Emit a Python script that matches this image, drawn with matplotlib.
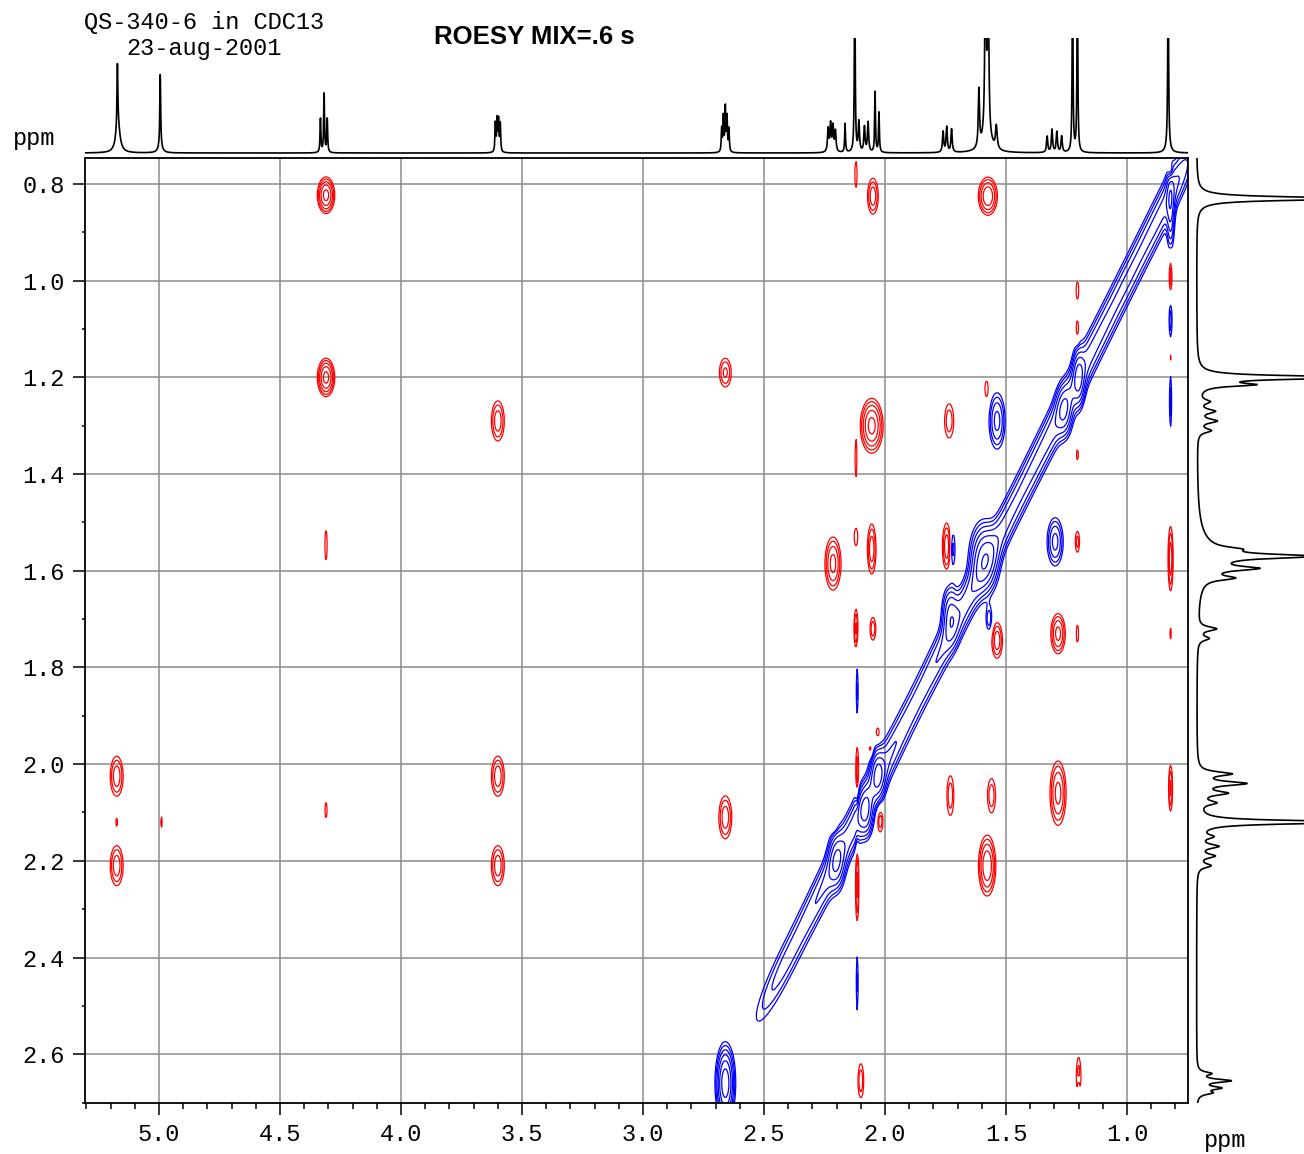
import numpy as np
import matplotlib
matplotlib.use("Agg")
import matplotlib.pyplot as plt
from matplotlib.ticker import MultipleLocator, FormatStrFormatter

plt.rcParams['font.family'] = ['Liberation Mono', 'DejaVu Sans Mono']

# ---- 2D ROESY peaks: (F2 ppm, F1 ppm, amplitude, sigma F2, sigma F1) ----
# red = positive (ROE cross peaks), contour level 1 = lowest contour
red_peaks = [
    (4.31, 0.823, 6.0, 0.019, 0.020),
    (4.31, 1.200, 6.0, 0.019, 0.021),
    (3.60, 1.290, 3.0, 0.018, 0.028),
    (4.31, 1.547, 1.5, 0.005, 0.035),
    (2.66, 1.190, 2.5, 0.018, 0.022),
    (5.175, 2.025, 3.0, 0.018, 0.028),
    (5.175, 2.210, 3.0, 0.018, 0.028),
    (5.175, 2.120, 1.3, 0.004, 0.012),
    (4.99, 2.120, 1.3, 0.004, 0.015),
    (4.31, 2.095, 1.4, 0.005, 0.020),
    (3.60, 2.025, 3.0, 0.018, 0.028),
    (3.60, 2.210, 3.0, 0.018, 0.028),
    (2.66, 2.110, 3.0, 0.018, 0.030),
    (2.12, 0.780, 1.5, 0.005, 0.030),
    (2.05, 0.825, 3.0, 0.015, 0.025),
    (1.575, 0.825, 5.0, 0.022, 0.022),
    (2.055, 1.300, 6.0, 0.025, 0.030),
    (2.12, 1.370, 1.5, 0.004, 0.040),
    (1.735, 1.290, 2.0, 0.016, 0.030),
    (1.58, 1.225, 1.5, 0.008, 0.020),
    (2.215, 1.585, 4.0, 0.020, 0.033),
    (2.12, 1.530, 1.5, 0.008, 0.020),
    (2.055, 1.555, 3.0, 0.012, 0.035),
    (1.745, 1.550, 3.0, 0.012, 0.033),
    (1.205, 1.540, 1.8, 0.008, 0.020),
    (0.82, 1.575, 3.0, 0.007, 0.045),
    (2.12, 1.720, 2.5, 0.006, 0.030),
    (2.05, 1.720, 2.0, 0.010, 0.020),
    (1.537, 1.744, 3.0, 0.015, 0.025),
    (1.285, 1.730, 4.0, 0.018, 0.025),
    (1.205, 1.730, 1.5, 0.005, 0.020),
    (0.82, 1.730, 1.3, 0.004, 0.015),
    (1.73, 2.065, 2.0, 0.012, 0.035),
    (1.56, 2.065, 2.0, 0.014, 0.030),
    (1.285, 2.060, 4.0, 0.020, 0.040),
    (0.82, 2.050, 2.5, 0.006, 0.035),
    (1.578, 2.210, 5.0, 0.020, 0.035),
    (2.115, 2.020, 2.0, 0.005, 0.050),
    (2.115, 2.250, 2.5, 0.005, 0.060),
    (2.10, 2.655, 2.0, 0.010, 0.030),
    (1.20, 2.660, 2.5, 0.008, 0.040),
    (1.205, 1.020, 1.5, 0.006, 0.020),
    (1.205, 1.100, 1.5, 0.006, 0.020),
    (1.205, 1.360, 1.3, 0.005, 0.015),
    (0.82, 0.775, 2.0, 0.008, 0.012),
    (0.82, 0.990, 2.0, 0.005, 0.030),
    (0.82, 1.160, 1.5, 0.004, 0.015),
    (0.82, 1.330, 1.3, 0.004, 0.012),
    (2.215, 2.127, 1.3, 0.012, 0.010),
    (2.02, 2.117, 2.0, 0.010, 0.020),
    (2.03, 1.935, 1.5, 0.008, 0.012),
    (2.06, 1.970, 1.5, 0.008, 0.012),
]

# blue = negative (diagonal and exchange-type peaks)
blue_peaks = [
    (1.537, 1.290, 4.0, 0.020, 0.035),
    (1.72, 1.555, 2.0, 0.008, 0.030),
    (1.297, 1.540, 4.0, 0.020, 0.030),
    (1.57, 1.700, 2.0, 0.010, 0.020),
    (0.82, 1.080, 2.0, 0.005, 0.030),
    (0.82, 1.250, 1.8, 0.004, 0.050),
    (2.115, 1.850, 1.6, 0.004, 0.050),
    (2.115, 2.450, 1.6, 0.004, 0.060),
    (1.20, 2.670, 1.8, 0.005, 0.020),
    (1.58, 2.100, 1.2, 0.004, 0.006),
    # diagonal blobs
    (0.82, 0.850, 5.0, 0.010, 0.050),
    (1.20, 1.200, 6.0, 0.015, 0.035),
    (1.26, 1.270, 5.0, 0.020, 0.032),
    (1.59, 1.575, 8.0, 0.032, 0.040),
    (1.73, 1.690, 5.0, 0.020, 0.035),
    (2.03, 2.020, 6.0, 0.018, 0.030),
    (2.08, 2.100, 6.0, 0.018, 0.030),
    (2.20, 2.200, 5.0, 0.020, 0.035),
    (2.66, 2.660, 10.0, 0.020, 0.040),
]

# diagonal ridge: position along the diagonal (ppm) and its depth
ridge_ppm = [0.80, 0.90, 1.00, 1.10, 1.20, 1.30, 1.40, 1.50, 1.60,
             1.70, 1.80, 1.90, 2.00, 2.10, 2.20, 2.30, 2.40, 2.48]
ridge_amp = [3.2, 2.8, 2.8, 2.8, 3.2, 3.2, 2.8, 2.8, 3.4,
             3.2, 2.3, 2.1, 2.8, 3.2, 3.2, 2.3, 2.0, 1.3]

# ---- 1D projections: (ppm, height, half width) ----
top_lines = [
    (5.172, 0.55, 0.002), (5.170, 0.25, 0.010),
    (4.995, 0.64, 0.002), (4.995, 0.05, 0.010),
    (4.333, 0.30, 0.002), (4.318, 0.52, 0.002), (4.305, 0.30, 0.002),
    (3.610, 0.25, 0.002), (3.603, 0.28, 0.002), (3.597, 0.27, 0.002), (3.590, 0.25, 0.002),
    (2.675, 0.20, 0.002), (2.668, 0.30, 0.002), (2.660, 0.39, 0.002),
    (2.653, 0.30, 0.002), (2.645, 0.20, 0.002),
    (2.235, 0.20, 0.003), (2.225, 0.24, 0.003), (2.215, 0.22, 0.003), (2.205, 0.18, 0.003),
    (2.165, 0.25, 0.002), (2.125, 1.60, 0.002),
    (2.108, 0.26, 0.003), (2.085, 0.22, 0.003), (2.070, 0.26, 0.003),
    (2.041, 0.53, 0.002), (2.025, 0.35, 0.002),
    (1.760, 0.18, 0.003), (1.745, 0.22, 0.003), (1.725, 0.20, 0.003),
    (1.612, 0.50, 0.003), (1.585, 1.60, 0.003), (1.574, 1.60, 0.003),
    (1.580, 0.15, 0.020), (1.540, 0.20, 0.004),
    (1.330, 0.14, 0.003), (1.310, 0.20, 0.003), (1.290, 0.18, 0.003), (1.270, 0.14, 0.003),
    (1.225, 1.60, 0.002), (1.205, 1.60, 0.002),
    (0.830, 1.60, 0.002), (0.830, 0.06, 0.010),
]

side_lines = [
    (0.830, 1.60, 0.004), (1.200, 1.60, 0.004), (1.215, 0.45, 0.004),
    (1.250, 0.10, 0.005), (1.270, 0.15, 0.005), (1.290, 0.17, 0.005), (1.310, 0.12, 0.005),
    (1.570, 0.92, 0.005), (1.595, 0.43, 0.005), (1.615, 0.26, 0.005),
    (1.555, 0.20, 0.005), (1.570, 0.15, 0.040),
    (1.720, 0.17, 0.005), (1.740, 0.10, 0.005),
    (2.020, 0.30, 0.005), (2.040, 0.43, 0.005), (2.060, 0.25, 0.005), (2.080, 0.15, 0.005),
    (2.120, 1.60, 0.004), (2.150, 0.12, 0.005), (2.170, 0.18, 0.005),
    (2.190, 0.15, 0.005), (2.210, 0.12, 0.005),
    (2.640, 0.12, 0.004), (2.655, 0.30, 0.004), (2.670, 0.20, 0.004), (2.680, 0.12, 0.004),
]

x_lim = (5.306, 0.748)
y_lim = (2.701, 0.746)
levels = [1.0, 1.5, 2.25, 3.4, 5.1, 7.6, 11.4]

# ---- build the 2D surface from the peak lists ----
xs = np.linspace(0.74, 5.32, 1150)
ys = np.linspace(0.74, 2.72, 1000)
Z = np.zeros((ys.size, xs.size))
for sign, peaks in ((1, red_peaks), (-1, blue_peaks)):
    for px, py, a, sx, sy in peaks:
        gx = np.exp(-0.5 * ((xs - px) / sx) ** 2)
        gy = np.exp(-0.5 * ((ys - py) / sy) ** 2)
        Z += sign * a * np.outer(gy, gx)
X, Y = np.meshgrid(xs, ys)
U = (X + Y) / 2
D = X - Y
ridge_d = np.exp(-0.5 * (D / 0.033) ** 2)
for u, a in zip(ridge_ppm, ridge_amp):
    Z -= a * np.exp(-0.5 * ((U - u) / 0.055) ** 2) * ridge_d


def spectrum(grid, lines):
    s = np.zeros_like(grid)
    for c, h, w in lines:
        s += h / (1 + ((grid - c) / w) ** 2)
    return s


W, H = 1304, 1154
fig = plt.figure(figsize=(W / 100, H / 100), dpi=100)

ax = fig.add_axes([85 / W, 1 - 1103 / H, (1188 - 85) / W, (1103 - 158) / H])
ax.contour(xs, ys, Z, levels=levels, colors='#ff0000', linewidths=0.9)
ax.contour(xs, ys, Z, levels=[-l for l in levels[::-1]], colors='#0000ff',
           linewidths=0.9, linestyles='solid')
ax.set_xlim(*x_lim)
ax.set_ylim(*y_lim)
ax.xaxis.set_major_locator(MultipleLocator(0.5))
ax.xaxis.set_minor_locator(MultipleLocator(0.1))
ax.yaxis.set_major_locator(MultipleLocator(0.2))
ax.yaxis.set_minor_locator(MultipleLocator(0.1))
ax.xaxis.set_major_formatter(FormatStrFormatter('%.1f'))
ax.yaxis.set_major_formatter(FormatStrFormatter('%.1f'))
ax.grid(True, which='major', color='#8c8c8c', linewidth=1.1)
ax.set_axisbelow(True)
ax.tick_params(which='major', direction='out', length=8.5, width=1.1,
               labelsize=17, pad=6)
ax.tick_params(axis='x', which='minor', direction='out', length=4, width=1.1)
ax.tick_params(axis='y', which='minor', direction='out', length=2.5, width=1.1)
for sp in ax.spines.values():
    sp.set_linewidth(1.3)

# top projection
ax_top = fig.add_axes([85 / W, 1 - 156 / H, (1188 - 85) / W, 118 / H])
gx1 = np.linspace(0.748, 5.306, 6000)
ax_top.plot(gx1, spectrum(gx1, top_lines), color='black', lw=1.2)
ax_top.set_xlim(*x_lim)
ax_top.set_ylim(-0.026, 1.0)
ax_top.axis('off')

# side projection
ax_side = fig.add_axes([1192 / W, 1 - 1103 / H, 112 / W, (1103 - 158) / H])
gy1 = np.linspace(0.746, 2.701, 4000)
ax_side.plot(spectrum(gy1, side_lines), gy1, color='black', lw=1.2)
ax_side.set_ylim(*y_lim)
ax_side.set_xlim(-0.042, 1.0)
ax_side.axis('off')

fig.text(204 / W, 1 - 22 / H, 'QS-340-6 in CDC13', ha='center', va='center', fontsize=17)
fig.text(204 / W, 1 - 48 / H, '23-aug-2001', ha='center', va='center', fontsize=17)
fig.text(534 / W, 1 - 37 / H, 'ROESY MIX=.6 s', ha='center', va='center',
         fontsize=18.5, fontweight='bold', family=['Liberation Sans', 'DejaVu Sans'])
fig.text(34 / W, 1 - 139 / H, 'ppm', ha='center', va='center', fontsize=17)
fig.text(1225 / W, 1 - 1141 / H, 'ppm', ha='center', va='center', fontsize=17)

fig.savefig('out.png', dpi=100, facecolor='white')
